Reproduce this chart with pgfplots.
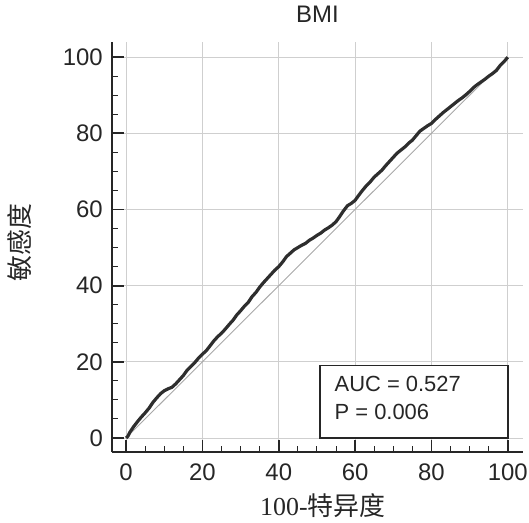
\documentclass[border=0pt]{standalone}
\usepackage{fontspec}
\setmainfont{Liberation Sans}
\newfontfamily\cjk{Noto Sans CJK SC}
\newfontfamily\serif{Liberation Serif}
\usepackage{pgfplots}
\pgfplotsset{compat=1.18}
\usetikzlibrary{calc}
\definecolor{curve}{HTML}{2E2E2E}
\definecolor{axisc}{HTML}{262626}
\definecolor{gridc}{HTML}{CFCFCF}
\definecolor{diag}{HTML}{A8A8A8}
\begin{document}
\begin{tikzpicture}
\begin{axis}[
  scale only axis,
  width=411bp, height=410bp,
  xmin=-3.7, xmax=104, ymin=-3.7, ymax=104,
  axis lines=left,
  axis line style={-, axisc, line width=2.2bp},
  xtick={0,20,40,60,80,100},
  ytick={0,20,40,60,80,100},
  minor tick num=3,
  tick align=inside,
  major tick length=12bp,
  minor tick length=6bp,
  major tick style={axisc, line width=1.8bp},
  minor tick style={axisc, line width=1bp},
  grid=major,
  major grid style={gridc, line width=0.8bp},
  /pgf/number format/assume math mode=true,
  tick label style={font=\fontsize{24}{26}\selectfont, text=black!85},
  xticklabel style={anchor=north, inner sep=0pt, yshift=-12bp},
  yticklabel style={anchor=east, inner sep=0pt, xshift=-9bp},
  title={BMI},
  title style={font=\fontsize{24}{26}\selectfont, text=black!85, at={(axis description cs:0.5,1.052)}, anchor=center},
  xlabel={{\serif 100-}{\cjk 特异度}},
  xlabel style={font=\fontsize{26}{28}\selectfont, text=black!85, at={(axis description cs:0.513,-0.132)}, anchor=center},
  ylabel={{\cjk 敏感度}},
  ylabel style={font=\fontsize{26}{28}\selectfont, text=black!85, at={(axis description cs:-0.224,0.51)}, anchor=center},
  clip=false,
]
\addplot[diag, line width=0.9bp] coordinates {(0,0) (100,100)};
\addplot[curve, line width=3.2bp, line join=round] coordinates {
(0,0) (0.5,0.5) (1,1.5) (2,3) (3,4.3) (4,5.5) (5,6.6) (6,7.8) (7,9.3) (8,10.5)
(9,11.6) (10,12.4) (11,12.9) (12,13.3) (13,14.2) (14,15.3) (15,16.4) (16,17.8)
(17,18.8) (18,19.8) (19,21) (20,22) (21,22.9) (22,24.2) (23,25.5) (24,26.6)
(25,27.5) (26,28.6) (27,29.8) (28,30.9) (29,32.3) (30,33.4) (31,34.6) (32,35.6)
(33,37.1) (34,38.2) (35,39.6) (36,40.8) (37,41.9) (38,43) (39,44.1) (40,45)
(41,46.2) (42,47.6) (43,48.5) (44,49.4) (45,50) (46,50.6) (47,51.1) (48,51.9)
(49,52.5) (50,53.2) (51,53.8) (52,54.6) (53,55.2) (54,55.9) (55,56.8) (56,58.2)
(57,59.7) (58,61) (59,61.6) (60,62.4) (61,63.8) (62,65.1) (63,66.3) (64,67.3)
(65,68.5) (66,69.4) (67,70.3) (68,71.5) (69,72.6) (70,73.7) (71,74.8) (72,75.6)
(73,76.4) (74,77.4) (75,78.2) (76,79.4) (77,80.6) (78,81.3) (79,82) (80,82.6)
(81,83.6) (82,84.5) (83,85.4) (84,86.2) (85,87) (86,87.8) (87,88.6) (88,89.3)
(89,90.1) (90,91) (91,92) (92,92.8) (93,93.5) (94,94.2) (95,95) (96,95.7)
(97,96.5) (98,97.8) (99,98.8) (100,100)
};
\draw[axisc, line width=1.8bp, fill=white] (axis cs:50.7,0) rectangle (axis cs:100,19);
\node[anchor=west, font=\fontsize{22}{24}\selectfont, text=black!85, inner sep=0pt] at (axis cs:54.6,14.2) {AUC = 0.527};
\node[anchor=west, font=\fontsize{22}{24}\selectfont, text=black!85, inner sep=0pt] at (axis cs:54.6,6.8) {P = 0.006};
\end{axis}
\pgfresetboundingbox
\path ($(current axis.south west)+(-112bp,-71bp)$) rectangle ($(current axis.north east)+(6bp,42bp)$);
\end{tikzpicture}
\end{document}
